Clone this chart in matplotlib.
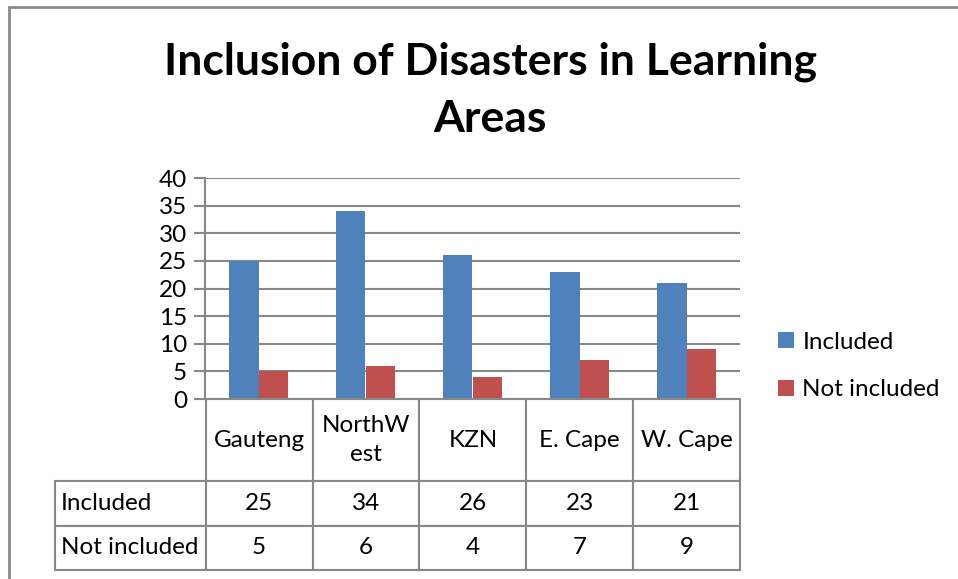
import matplotlib.pyplot as plt
from matplotlib.patches import Rectangle
from matplotlib.table import Table
import numpy as np

provinces = ["Gauteng", "NorthW\nest", "KZN", "E. Cape", "W. Cape"]
included = [25, 34, 26, 23, 21]
not_included = [5, 6, 4, 7, 9]
series_names = ["Included", "Not included"]
title = "Inclusion of Disasters in Learning\nAreas"

W, H = 958, 579
BLUE = "#4F81BD"
RED = "#C0504D"
GRID = "#888888"
FONT = "Lato"
FS = 17.5

plt.rcParams["font.family"] = [FONT, "DejaVu Sans"]


def fx(x):
    return x / W


def fy(y):
    return 1 - y / H


fig = plt.figure(figsize=(W / 100, H / 100), dpi=100)

# outer chart border (only top and left sides fall inside the image)
fig.add_artist(Rectangle((fx(9), -0.1), 1.2, fy(7) + 0.1, transform=fig.transFigure,
                         fill=False, edgecolor="#8a8a8a", lw=2))

fig.text(fx(490), fy(90), title, ha="center", va="center", fontsize=32,
         fontweight="bold", linespacing=1.5)

# bar chart
ax = fig.add_axes([fx(205), fy(399), (740 - 205) / W, (399 - 178) / H])
x = np.arange(len(provinces))
bw = 0.28
b1 = ax.bar(x - bw / 2, included, bw, color=BLUE, label=series_names[0], zorder=3)
b2 = ax.bar(x + bw / 2, not_included, bw, color=RED, label=series_names[1], zorder=3)
ax.set_xlim(-0.5, len(provinces) - 0.5)
ax.set_ylim(0, 40)
ax.set_yticks(np.arange(0, 41, 5))
ax.set_xticks([])
ax.yaxis.grid(True, color=GRID, lw=1.5, zorder=0)
ax.tick_params(axis="y", length=8, width=1.5, color=GRID, pad=5, labelsize=FS)
for s in ["top", "right", "bottom"]:
    ax.spines[s].set_visible(False)
ax.spines["left"].set_color(GRID)
ax.spines["left"].set_linewidth(1.5)

fig.legend(handles=[b1, b2], labels=series_names, loc="center left",
           bbox_to_anchor=(fx(778), fy(366)), frameon=False, fontsize=FS,
           handlelength=0.65, handleheight=0.65, handletextpad=0.35,
           labelspacing=1.1, borderpad=0, borderaxespad=0)

# data table below the plot
tax = fig.add_axes([fx(55), fy(570), (740 - 55) / W, (570 - 399) / H])
tax.axis("off")
tab = Table(tax, bbox=[0, 0, 1, 1])
lab_w, col_w = 151, 107
hdr_h, row_h = 82, 44
for j, name in enumerate(provinces):
    tab.add_cell(0, j + 1, col_w, hdr_h, text=name, loc="center")
for i, (label, vals) in enumerate(zip(series_names, [included, not_included])):
    c = tab.add_cell(i + 1, 0, lab_w, row_h, text=label, loc="left")
    c.PAD = 0.04
    for j, v in enumerate(vals):
        tab.add_cell(i + 1, j + 1, col_w, row_h, text=str(v), loc="center")
tab.auto_set_font_size(False)
for cell in tab.get_celld().values():
    cell.set_edgecolor(GRID)
    cell.set_linewidth(1.5)
    cell.get_text().set_fontsize(FS)
    cell.get_text().set_linespacing(1.5)
tax.add_table(tab)

fig.savefig("out.png", dpi=100)
